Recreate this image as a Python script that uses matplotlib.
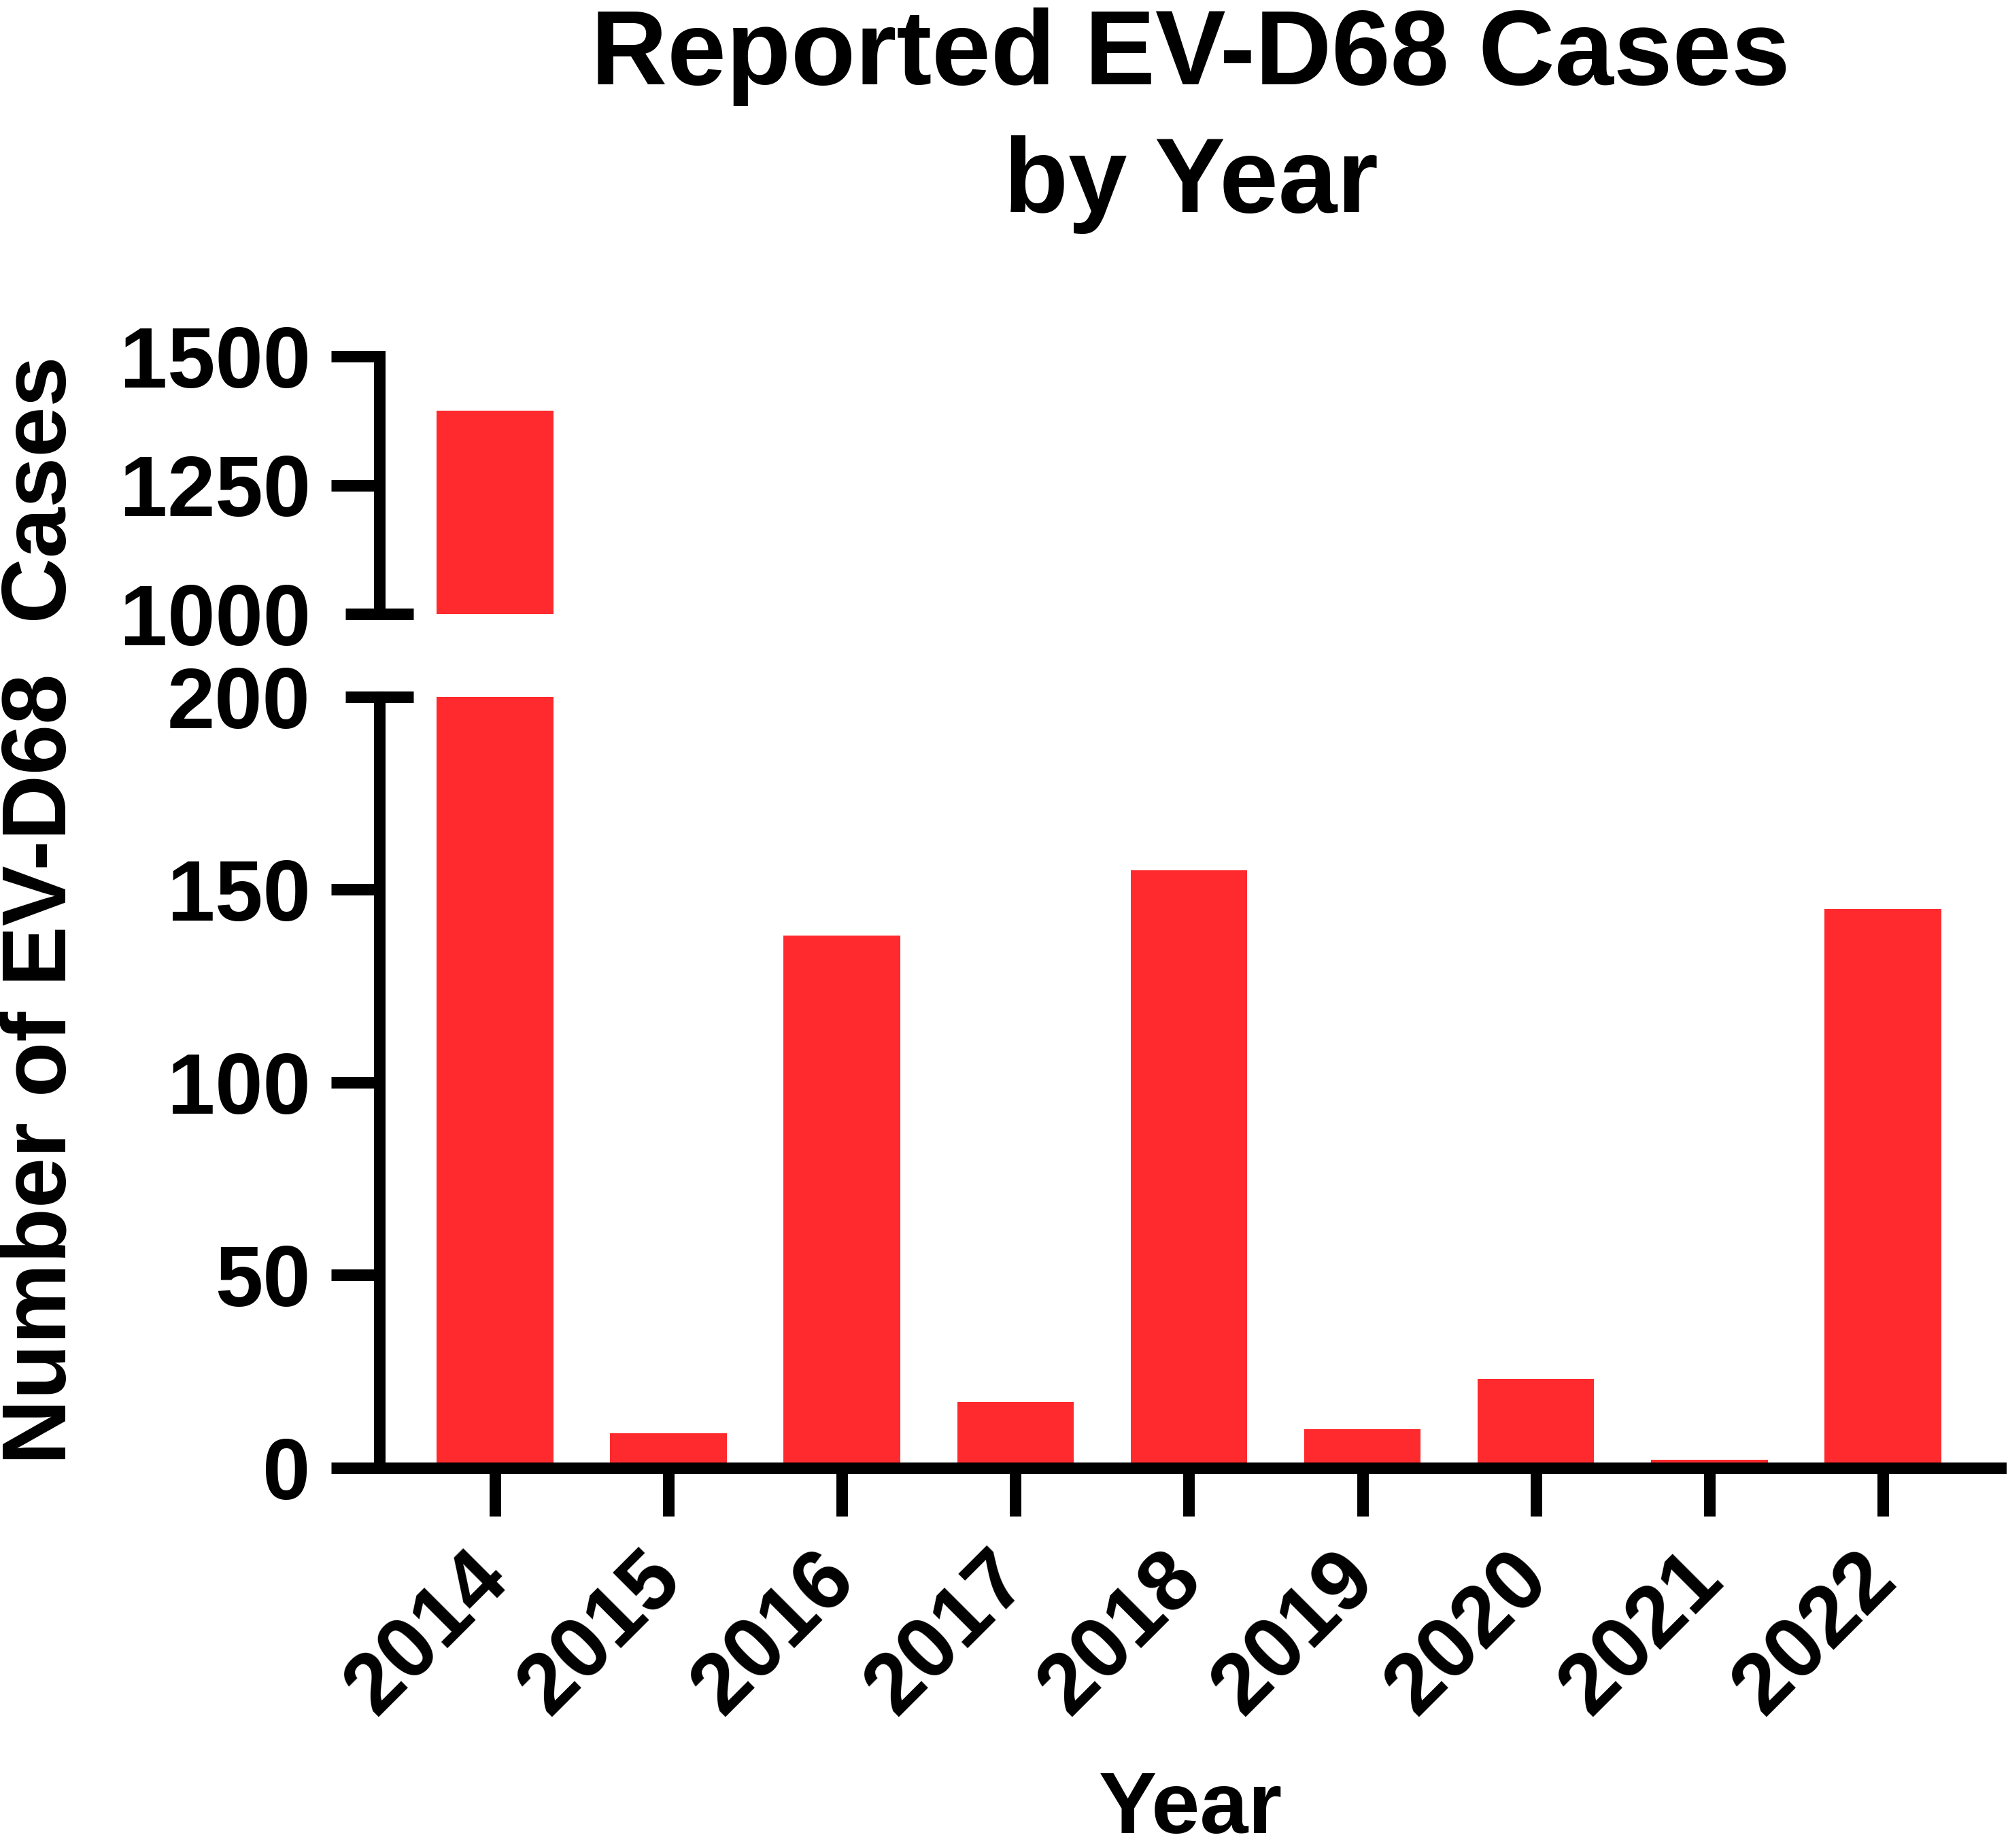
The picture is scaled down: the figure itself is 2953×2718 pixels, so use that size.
import matplotlib
matplotlib.use("Agg")
import matplotlib.pyplot as plt
import numpy as np

# values
years = ["2014", "2015", "2016", "2017", "2018", "2019", "2020", "2021", "2022"]
cases = [1394, 9, 138, 17, 155, 10, 23, 2, 145]
low_ticks = [0, 50, 100, 150, 200]
high_ticks = [1000, 1250, 1500]

BAR_COLOR = "#FF2A2E"
LW = 12.2
TICK_LEN = 51

plt.rcParams["font.family"] = ["Liberation Sans", "DejaVu Sans"]
plt.rcParams["font.weight"] = "bold"

W, H = 2953, 2718
fig = plt.figure(figsize=(W / 100, H / 100), dpi=100)

left = 558 / W
right = 2942 / W
ax_low = fig.add_axes([left, 1 - 2158.8 / H, right - left, (2158.8 - 1025) / H])
ax_high = fig.add_axes([left, 1 - 903 / H, right - left, (903 - 524) / H])

x = np.arange(len(years))
for ax in (ax_low, ax_high):
    ax.bar(x, cases, width=0.672, color=BAR_COLOR, linewidth=0)
    ax.set_xlim(-0.666, 8.678)
    ax.spines["top"].set_visible(False)
    ax.spines["right"].set_visible(False)
    ax.spines["left"].set_linewidth(LW)
    ax.spines["bottom"].set_linewidth(LW)
    ax.tick_params(axis="both", width=LW, length=TICK_LEN, labelsize=91, pad=22)

ax_low.set_ylim(0, 200)
ax_low.set_yticks(low_ticks)
ax_low.set_xticks(x)
ax_low.set_xticklabels(years, rotation=45, ha="right", va="center", rotation_mode="anchor")
ax_low.tick_params(axis="x", pad=53)

ax_high.set_ylim(1000, 1500)
ax_high.set_yticks(high_ticks)
ax_high.spines["bottom"].set_visible(False)
ax_high.set_xticks([])

# break marks at 200 (lower) and 1000 (upper)
ax_low.yaxis.get_major_ticks()[-1].tick1line.set_markersize(0)
ax_high.yaxis.get_major_ticks()[0].tick1line.set_markersize(0)
for ax, yv in ((ax_low, 200), (ax_high, 1000)):
    ax.plot([-0.021, 0.021], [yv, yv], transform=ax.get_yaxis_transform(),
            color="black", lw=LW, solid_capstyle="butt", clip_on=False, zorder=5)

# title, two lines placed by baseline
fig.text(1751 / W, 1 - 124 / H, "Reported EV-D68 Cases", ha="center", va="baseline",
         fontsize=112, fontweight="bold")
fig.text(1751 / W, 1 - 312 / H, "by Year", ha="center", va="baseline",
         fontsize=112, fontweight="bold")
fig.text(62 / W, 1 - 1339 / H, "Number of EV-D68  Cases", rotation=90, ha="center",
         va="center", fontsize=96, fontweight="bold")
fig.text(1751 / W, 1 - 2696 / H, "Year", ha="center", va="baseline",
         fontsize=92, fontweight="bold")

fig.savefig("out.png", dpi=100, facecolor="white")
